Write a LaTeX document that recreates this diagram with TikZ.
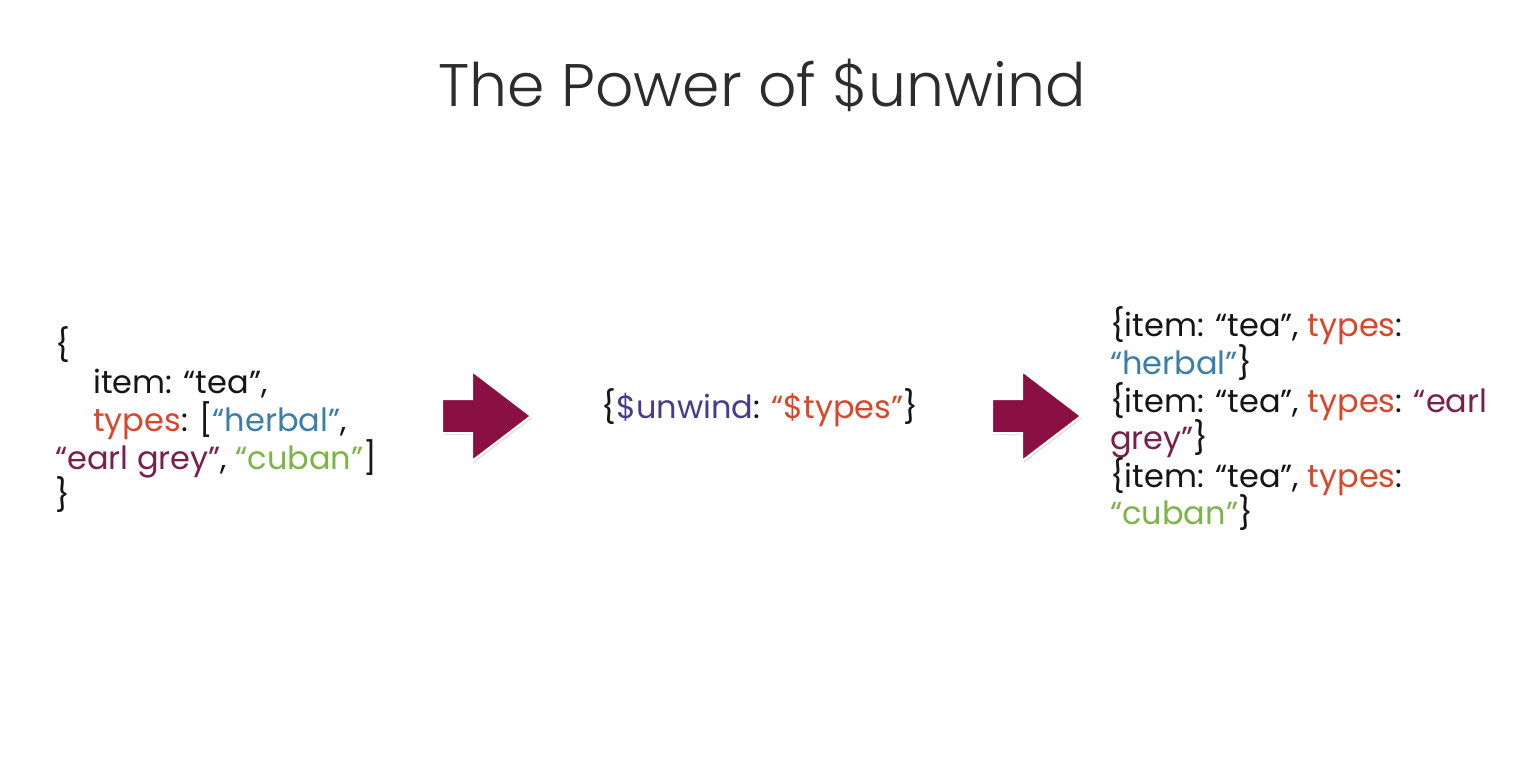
\documentclass[tikz,border=0pt]{standalone}
\usepackage{fontspec}
\setmainfont{Poppins}
\newfontfamily\titlefont{Poppins Light}
\usetikzlibrary{shadows}
\definecolor{ink}{HTML}{151515}
\definecolor{keyred}{HTML}{D8472B}
\definecolor{valblue}{HTML}{3B7EA8}
\definecolor{valmaroon}{HTML}{7A1E4B}
\definecolor{valgreen}{HTML}{7DB446}
\definecolor{oppurple}{HTML}{4A3A8C}
\definecolor{arrowfill}{HTML}{8A0F42}
\newcommand{\kw}[1]{\textcolor{keyred}{#1}}
\begin{document}
\begin{tikzpicture}[x=1pt,y=-1pt,
  codeline/.style={anchor=base west,inner sep=0pt,text=ink,
    font=\fontsize{32}{37}\selectfont},
  midline/.style={anchor=base,inner sep=0pt,text=ink,
    font=\fontsize{32}{37}\selectfont},
  titletext/.style={anchor=base,inner sep=0pt,text=ink!90,
    font=\titlefont\fontsize{60}{70}\selectfont},
  bigarrow/.style={fill=arrowfill,draw=white,line width=2pt,line join=miter,
    drop shadow={opacity=0.25,shadow xshift=1.5pt,shadow yshift=-2pt}}]
\useasboundingbox[fill=white] (0,0) rectangle (1524,767);

% heading
\node[titletext] (title) at (762,107) {The Power of \$unwind};

% source document
\node[codeline] (s1) at (55,356) {\{};
\node[codeline] (s2) at (93,393) {item: “tea”,};
\node[codeline] (s3) at (93,431) {\kw{types}: [\textcolor{valblue}{“herbal”},};
\node[codeline] (s4) at (55,469) {\textcolor{valmaroon}{“earl grey”}, \textcolor{valgreen}{“cuban”}]};
\node[codeline] (s5) at (55,506) {\}};

% pipeline stage
\node[midline] (stage) at (760,418) {\{\textcolor{oppurple}{\$unwind}: \kw{“\$types”}\}};

% resulting documents
\node[codeline] (r1) at (1110,337) {\{item: “tea”, \kw{types}:};
\node[codeline] (r2) at (1110,374) {\textcolor{valblue}{“herbal”}\}};
\node[codeline] (r3) at (1110,412) {\{item: “tea”, \kw{types}: \textcolor{valmaroon}{“earl}};
\node[codeline] (r4) at (1110,449) {\textcolor{valmaroon}{grey”}\}};
\node[codeline] (r5) at (1110,487) {\{item: “tea”, \kw{types}:};
\node[codeline] (r6) at (1110,524) {\textcolor{valgreen}{“cuban”}\}};

% flow arrows
\coordinate (a1) at (442,416);
\coordinate (a2) at (992,416);
\foreach \a in {a1,a2}{
  \path[bigarrow] (\a) ++(0,-17) -- ++(30,0) -- ++(0,-28) -- ++(59,45)
    -- ++(-59,45) -- ++(0,-28) -- ++(-30,0) -- cycle;
}
\end{tikzpicture}
\end{document}
